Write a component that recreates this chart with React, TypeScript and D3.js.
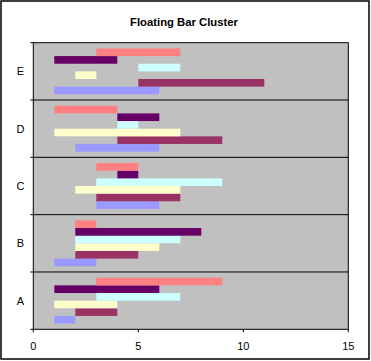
import React from "react";
import * as d3 from "d3";

const categories = ["A", "B", "C", "D", "E"];
const seriesNames = ["S1", "S2", "S3", "S4", "S5", "S6"];
const seriesColors = ["#9999FF", "#993366", "#FFFFCC", "#CCFFFF", "#660066", "#FF8080"];
// [start, end] per category (A..E)
const s1 = [[1, 2], [1, 3], [3, 6], [2, 6], [1, 6]];
const s2 = [[2, 4], [2, 5], [3, 7], [4, 9], [5, 11]];
const s3 = [[1, 4], [2, 6], [2, 7], [1, 7], [2, 3]];
const s4 = [[3, 7], [2, 7], [3, 9], [4, 5], [5, 7]];
const s5 = [[1, 6], [2, 8], [4, 5], [4, 6], [1, 4]];
const s6 = [[3, 9], [2, 3], [3, 5], [1, 4], [3, 7]];
const seriesData = [s1, s2, s3, s4, s5, s6];
const xTicks = [0, 5, 10, 15];
const title = "Floating Bar Cluster";

export default function App() {
  const W = 371, H = 361;
  const left = 33.3, right = 348.3, top = 42.7, bottom = 329.3;
  const x = d3.scaleLinear().domain([0, 15]).range([left, right]);
  const y = d3.scaleBand<string>().domain([...categories].reverse()).range([top, bottom]).paddingInner(0).paddingOuter(0);
  const inner = d3.scaleBand<string>().domain([...seriesNames].reverse()).range([0, y.bandwidth()]).paddingInner(0).paddingOuter(0.75);
  const font = "Arial, 'Liberation Sans', sans-serif";
  return (
    <svg width={W} height={H} style={{ position: "absolute", left: 0, top: 0 }}>
      <rect x={0} y={0} width={W} height={H} fill="#fff" />
      <rect x={1} y={1} width={368} height={358} fill="none" stroke="#000" strokeWidth={1.5} />
      <text x={184} y={26} textAnchor="middle" fontFamily={font} fontWeight="bold" fontSize={11.3}>{title}</text>
      <rect x={left} y={top} width={right - left} height={bottom - top} fill="#C0C0C0" />
      {seriesData.map((sd, si) =>
        sd.map((v, ci) => (
          <rect key={si + "-" + ci}
            x={x(v[0])} width={x(v[1]) - x(v[0])}
            y={(y(categories[ci]) as number) + (inner(seriesNames[si]) as number)}
            height={inner.bandwidth()}
            fill={seriesColors[si]} />
        ))
      )}
      {categories.slice(1).map((c) => (
        <line key={c} x1={left - 3} x2={right} y1={(y(c) as number) + y.bandwidth()} y2={(y(c) as number) + y.bandwidth()} stroke="#000" strokeWidth={1} />
      ))}
      <rect x={left} y={top} width={right - left} height={bottom - top} fill="none" stroke="#000" strokeWidth={1} />
      <line x1={left - 3} x2={left} y1={top} y2={top} stroke="#000" />
      <line x1={left - 3} x2={left} y1={bottom} y2={bottom} stroke="#000" />
      {categories.map((c) => (
        <text key={c} x={20.5} y={(y(c) as number) + y.bandwidth() / 2 + 4} textAnchor="middle" fontFamily={font} fontSize={11}>{c}</text>
      ))}
      {xTicks.map((t) => (
        <g key={t}>
          <line x1={x(t)} x2={x(t)} y1={bottom} y2={bottom + 3} stroke="#000" />
          <text x={x(t)} y={350} textAnchor="middle" fontFamily={font} fontSize={11}>{t}</text>
        </g>
      ))}
    </svg>
  );
}
